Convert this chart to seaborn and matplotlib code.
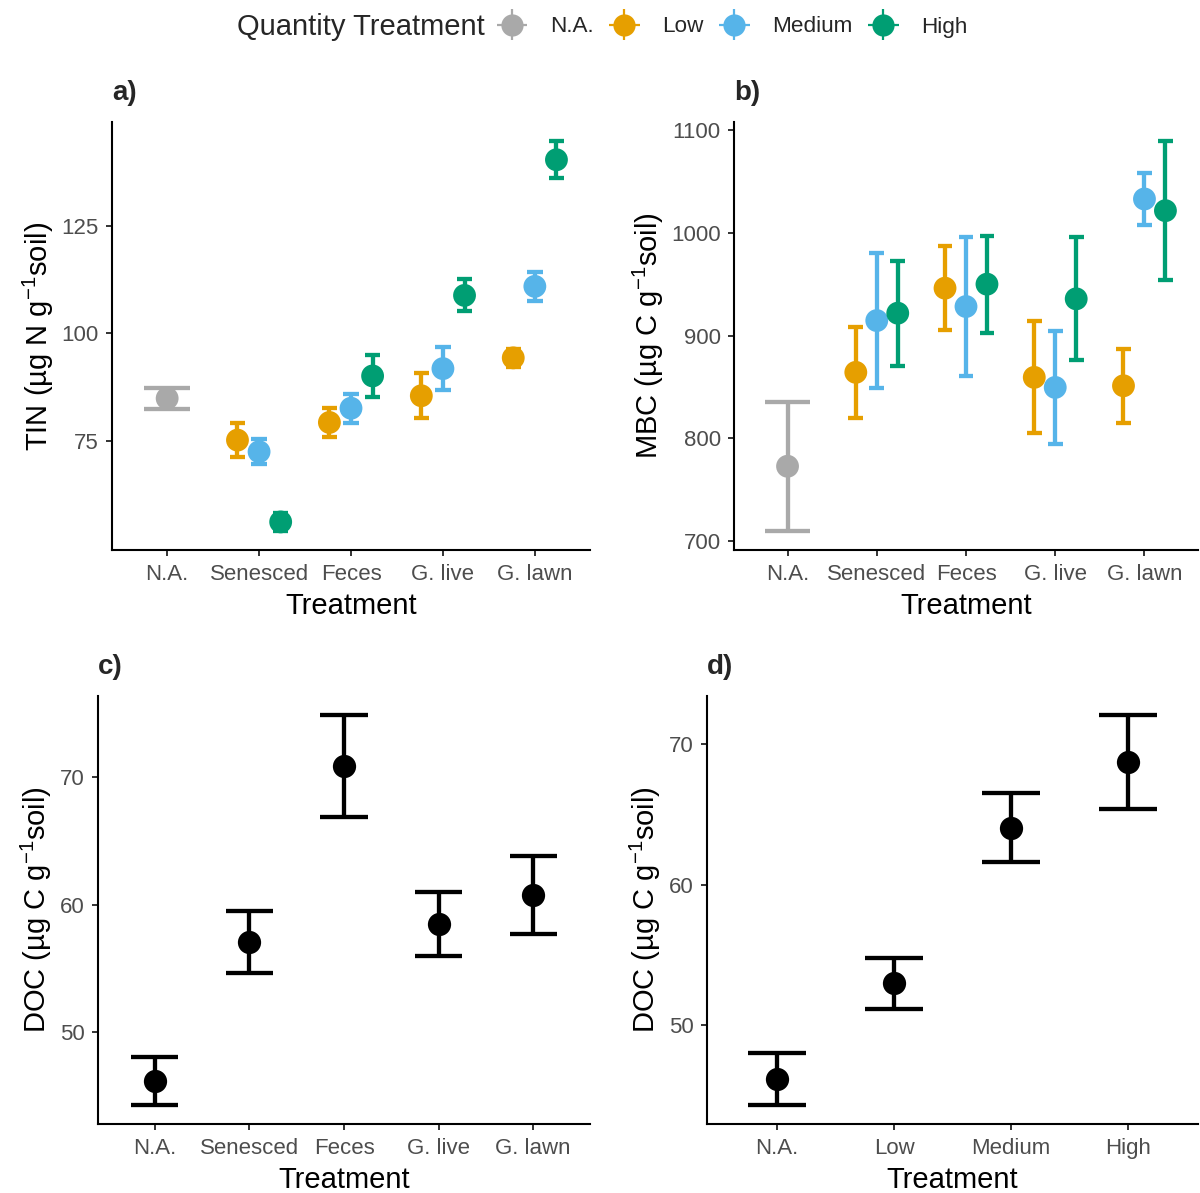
import numpy as np
import pandas as pd
import matplotlib
matplotlib.use("Agg")
import matplotlib.pyplot as plt
import seaborn as sns
from matplotlib.lines import Line2D
from matplotlib.legend_handler import HandlerBase

# ---------------- data ----------------
treatments = ["N.A.", "Senesced", "Feces", "G. live", "G. lawn"]
quantities = ["N.A.", "Low", "Medium", "High"]
palette = {"N.A.": "#A9A9A9", "Low": "#E69F00", "Medium": "#56B4E9", "High": "#009E73"}

ab_treatment = ["N.A.",
                "Senesced", "Senesced", "Senesced",
                "Feces", "Feces", "Feces",
                "G. live", "G. live", "G. live",
                "G. lawn", "G. lawn", "G. lawn"]
ab_quantity = ["N.A.", "Low", "Medium", "High",
               "Low", "Medium", "High",
               "Low", "Medium", "High",
               "Low", "Medium", "High"]

tin_mean = [84.9, 75.2, 72.5, 56.2, 79.3, 82.6, 90.1, 85.5, 91.8, 108.8, 94.3, 110.9, 140.3]
tin_se = [2.4, 4.0, 2.85, 2.0, 3.4, 3.35, 4.95, 5.2, 4.95, 3.7, 2.15, 3.3, 4.25]

mbc_mean = [772.5, 864.1, 914.6, 921.8, 946.2, 928.3, 950.1, 859.2, 849.4, 935.8, 851.0, 1033.2, 1021.8]
mbc_se = [62.7, 44.3, 65.5, 51.3, 41.1, 68.0, 47.3, 54.5, 55.2, 60.0, 36.2, 25.3, 67.5]

doc_trt_mean = [46.2, 57.08, 70.83, 58.46, 60.78]
doc_trt_se = [1.85, 2.45, 3.97, 2.5, 3.05]

doc_qty_mean = [46.2, 52.97, 64.06, 68.72]
doc_qty_se = [1.85, 1.83, 2.45, 3.33]

# ---------------- style ----------------
sns.set_style("ticks")
plt.rcParams["font.family"] = ["Liberation Sans", "DejaVu Sans"]
plt.rcParams["mathtext.fontset"] = "custom"
plt.rcParams["mathtext.rm"] = "Liberation Sans"
plt.rcParams["mathtext.it"] = "Liberation Sans:italic"
plt.rcParams["mathtext.bf"] = "Liberation Sans:bold"

TICK_FS = 16
LEG_FS = 16.2
LAB_FS = 21
LEGTITLE_FS = 21
TITLE_FS = 20
EB_LW = 3.1
DODGE = 0.235

W, H = 1200, 1193
fig = plt.figure(figsize=(W / 100, H / 100), dpi=100)


def rect(l, r, t, b):
    return [l / W, 1 - b / H, (r - l) / W, (b - t) / H]


ax_a = fig.add_axes(rect(112, 590, 122, 550))
ax_b = fig.add_axes(rect(734, 1198, 122, 550))
ax_c = fig.add_axes(rect(98, 590, 696, 1124))
ax_d = fig.add_axes(rect(707, 1198, 696, 1124))


def style_axis(ax, title, ylabel, labels, lo, hi, yticks):
    for s in ["top", "right"]:
        ax.spines[s].set_visible(False)
    for s in ["left", "bottom"]:
        ax.spines[s].set_linewidth(1.5)
        ax.spines[s].set_color("black")
    ax.tick_params(axis="both", length=4, width=1.4, color="#333333",
                   labelsize=TICK_FS, labelcolor="#4D4D4D")
    ax.tick_params(axis="x", pad=6)
    ax.tick_params(axis="y", pad=5.5)
    ax.set_xticks(range(len(labels)))
    ax.set_xticklabels(labels)
    ax.set_xlim(-0.6, len(labels) - 0.4)
    pad = 0.05 * (hi - lo)
    ax.set_ylim(lo - pad, hi + pad)
    ax.set_yticks(yticks)
    ax.set_xlabel("Treatment", fontsize=LAB_FS, color="black", labelpad=5)
    ax.set_ylabel(ylabel, fontsize=LAB_FS, color="black", labelpad=4)
    ax.set_title(title, loc="left", fontsize=TITLE_FS, fontweight="bold", pad=16)
    ax.grid(False)


def dodged_panel(ax, mean, se, title, ylabel, yticks):
    df = pd.DataFrame({"treatment": ab_treatment, "quantity": ab_quantity,
                       "mean": mean, "se": se})
    offsets = {"N.A.": 0.0, "Low": -DODGE, "Medium": 0.0, "High": DODGE}
    df["x"] = df["treatment"].map(treatments.index) + df["quantity"].map(offsets)
    df["lo"] = df["mean"] - df["se"]
    df["hi"] = df["mean"] + df["se"]
    df["capw"] = np.where(df["quantity"] == "N.A.", 0.5, 0.5 / 3)
    colors = df["quantity"].map(palette).tolist()
    ax.vlines(df["x"], df["lo"], df["hi"], colors=colors, lw=EB_LW, zorder=2)
    ax.hlines(df["lo"], df["x"] - df["capw"] / 2, df["x"] + df["capw"] / 2,
              colors=colors, lw=EB_LW, zorder=2)
    ax.hlines(df["hi"], df["x"] - df["capw"] / 2, df["x"] + df["capw"] / 2,
              colors=colors, lw=EB_LW, zorder=2)
    sns.scatterplot(data=df, x="x", y="mean", hue="quantity", hue_order=quantities,
                    palette=palette, s=270, linewidth=0, legend=False, ax=ax, zorder=3)
    style_axis(ax, title, ylabel, treatments, df["lo"].min(), df["hi"].max(), yticks)


def simple_panel(ax, labels, mean, se, title, ylabel, yticks):
    df = pd.DataFrame({"group": labels, "mean": mean, "se": se})
    df["x"] = np.arange(len(labels))
    df["lo"] = df["mean"] - df["se"]
    df["hi"] = df["mean"] + df["se"]
    ax.vlines(df["x"], df["lo"], df["hi"], colors="black", lw=EB_LW, zorder=2)
    ax.hlines(df["lo"], df["x"] - 0.25, df["x"] + 0.25, colors="black", lw=EB_LW, zorder=2)
    ax.hlines(df["hi"], df["x"] - 0.25, df["x"] + 0.25, colors="black", lw=EB_LW, zorder=2)
    sns.scatterplot(data=df, x="x", y="mean", color="black", s=280, linewidth=0,
                    legend=False, ax=ax, zorder=3)
    style_axis(ax, title, ylabel, labels, df["lo"].min(), df["hi"].max(), yticks)


dodged_panel(ax_a, tin_mean, tin_se, "a)",
             r"TIN (µg N g$^{\mathregular{-1}}$soil)", [75, 100, 125])
dodged_panel(ax_b, mbc_mean, mbc_se, "b)",
             r"MBC (µg C g$^{\mathregular{-1}}$soil)", [700, 800, 900, 1000, 1100])
simple_panel(ax_c, treatments, doc_trt_mean, doc_trt_se, "c)",
             r"DOC (µg C g$^{\mathregular{-1}}$soil)", [50, 60, 70])
simple_panel(ax_d, quantities, doc_qty_mean, doc_qty_se, "d)",
             r"DOC (µg C g$^{\mathregular{-1}}$soil)", [50, 60, 70])


# ---------------- legend ----------------
class KeyHandler(HandlerBase):
    """Point + error bar key, all centred in the legend key box."""

    def create_artists(self, legend, orig_handle, xdescent, ydescent,
                       width, height, fontsize, trans):
        c = orig_handle.get_color()
        cx = width / 2 - xdescent
        cy = height / 2 - ydescent
        half_v = 11.0
        hl = Line2D([-xdescent, width - xdescent], [cy, cy], color=c, lw=1.6,
                    solid_capstyle="butt")
        vl = Line2D([cx, cx], [cy - half_v, cy + half_v], color=c, lw=1.6,
                    solid_capstyle="butt")
        dot = Line2D([cx], [cy], color=c, marker="o", markersize=16,
                     markeredgewidth=0, linestyle="None")
        arts = [hl, vl, dot]
        for a in arts:
            a.set_transform(trans)
        return arts


fig.text(237 / W, 1 - 27 / H, "Quantity Treatment", fontsize=LEGTITLE_FS,
         ha="left", va="center")
handles = [Line2D([], [], color=palette[q]) for q in quantities]
fig.legend(handles, quantities, loc="center left",
           bbox_to_anchor=(497 / W, 1 - 27 / H), ncol=4, frameon=False,
           fontsize=LEG_FS, handlelength=1.35, handletextpad=1.0,
           columnspacing=0.7, borderpad=0, borderaxespad=0,
           handler_map={Line2D: KeyHandler()})

fig.savefig("out.png", dpi=100)
